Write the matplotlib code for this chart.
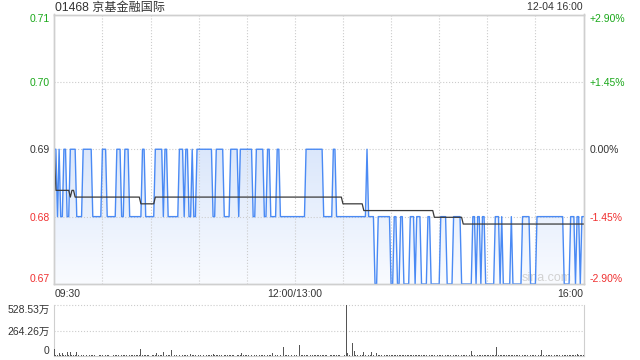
import numpy as np
import matplotlib
matplotlib.use('Agg')
import matplotlib.pyplot as plt
from matplotlib.patches import PathPatch
from matplotlib.colors import to_rgb

plt.rcParams['font.family'] = ['Liberation Sans', 'Noto Sans CJK SC', 'DejaVu Sans']

title = '01468 京基金融国际'
stamp = '12-04 16:00'
prev_close = 0.69

# minute price as runs (price, number of minutes), 09:30 .. 16:00 = 331 points
run_prices = [0.69, 0.68, 0.69, 0.68, 0.69, 0.68, 0.69, 0.68, 0.69, 0.68,
              0.69, 0.68, 0.69, 0.68, 0.69, 0.68, 0.69, 0.68, 0.69, 0.68,
              0.69, 0.68, 0.69, 0.68, 0.69, 0.68, 0.69, 0.68, 0.69, 0.68,
              0.69, 0.68, 0.69, 0.68, 0.69, 0.68, 0.69, 0.68, 0.69, 0.68,
              0.69, 0.68, 0.69, 0.68, 0.69, 0.68, 0.69, 0.68,
              0.67, 0.68, 0.67, 0.68, 0.67, 0.68, 0.67, 0.68, 0.67, 0.68,
              0.67, 0.68, 0.67, 0.68, 0.67, 0.68, 0.67, 0.68, 0.67, 0.68,
              0.67, 0.68, 0.67, 0.68, 0.67, 0.68, 0.67, 0.68, 0.67, 0.68,
              0.67, 0.68, 0.67, 0.68, 0.67, 0.68, 0.67, 0.68]
run_lengths = [2, 1, 1, 2, 2, 2, 4, 4, 6, 6,
               3, 6, 3, 2, 3, 8, 2, 6, 5, 1,
               2, 7, 3, 1, 2, 2, 1, 2, 10, 2,
               5, 4, 5, 1, 8, 2, 5, 2, 2, 4,
               2, 16, 11, 6, 2, 19, 1, 4,
               2, 8, 2, 2, 2, 2, 4, 3, 1, 3,
               4, 2, 6, 4, 4, 5, 7, 2, 1, 2,
               1, 2, 6, 3, 1, 1, 5, 1, 6, 5,
               4, 17, 4, 3, 1, 2, 1, 2]

# average price line as runs
avg_prices = [0.69, 0.6839, 0.6829, 0.6839, 0.6829, 0.6819, 0.6829, 0.6819, 0.6809, 0.6799, 0.6789]
avg_lengths = [1, 9, 1, 2, 41, 9, 117, 13, 44, 18, 76]

# volume per minute, in 万
volumes = [
    75, 15, 10, 35, 12, 30, 10, 8, 40, 12, 45, 10, 15, 8, 45, 10, 12, 8, 10, 5, 12, 8, 10, 6, 12, 8, 10, 5, 12, 8, 10, 6, 12,
    8, 10, 5, 12, 6, 10, 8, 12, 30, 8, 10, 6, 12, 5, 10, 8, 12, 6, 10, 8, 12, 75, 10, 8, 12, 6, 10, 5, 12, 8, 10, 30, 8,
    10, 6, 40, 10, 8, 12, 6, 60, 10, 8, 12, 5, 10, 8, 12, 6, 10, 8, 12, 20, 8, 10, 6, 12, 8, 10, 5, 12, 8, 10, 6, 12, 8,
    20, 10, 6, 12, 8, 10, 5, 12, 8, 10, 6, 12, 8, 10, 5, 12, 8, 10, 30, 8, 12, 6, 10, 8, 12, 5, 10, 8, 12, 6, 10, 8, 12,
    10, 8, 12, 6, 30, 10, 8, 12, 5, 10, 8, 95, 12, 6, 10, 8, 12, 5, 10, 8, 12, 115, 10, 8, 12, 6, 10, 5, 12, 8, 10, 6, 12,
    8, 10, 6, 12, 8, 10, 5, 12, 8, 10, 6, 12, 8, 10, 5, 12, 8, 528.53, 30, 15, 40, 130, 50, 15, 10, 12, 8, 15, 40, 10, 12, 8, 15,
    40, 10, 12, 30, 8, 15, 10, 12, 8, 10, 6, 12, 8, 15, 10, 8, 12, 6, 10, 8, 12, 10, 15, 8, 10, 6, 12, 8, 10, 12, 8, 10, 6,
    10, 12, 8, 15, 10, 6, 12, 268, 10, 8, 12, 6, 10, 8, 15, 10, 12, 8, 10, 6, 12, 8, 10, 15, 8, 12, 6, 10, 12, 55, 10, 8, 12,
    10, 8, 12, 6, 10, 15, 8, 12, 10, 6, 12, 8, 90, 10, 12, 8, 15, 10, 6, 12, 8, 10, 12, 6, 10, 8, 15, 12, 8, 10, 6, 12, 8,
    10, 12, 8, 15, 10, 6, 12, 65, 10, 8, 12, 6, 10, 8, 15, 10, 12, 8, 10, 6, 12, 8, 10, 15, 8, 12, 6, 10, 12, 20, 10, 8, 12,
    15,
]

price_ticks = [0.67, 0.68, 0.69, 0.70, 0.71]
price_labels = ['0.67', '0.68', '0.69', '0.70', '0.71']
pct_labels = ['-2.90%', '-1.45%', '0.00%', '+1.45%', '+2.90%']
time_ticks = [0, 150, 330]
time_labels = ['09:30', '12:00/13:00', '16:00']
vol_ticks = [0, 264.26, 528.53]
vol_labels = ['0', '264.26万', '528.53万']

prices = np.repeat(run_prices, run_lengths)
avg = np.repeat(avg_prices, avg_lengths)
minutes = np.arange(len(prices))

UP, DOWN, FLAT = '#1aa81a', '#f03030', '#333333'
GRID = '#cccccc'
FS = 7.5


def tone(v):
    if v > prev_close + 1e-9:
        return UP
    if v < prev_close - 1e-9:
        return DOWN
    return FLAT


fig = plt.figure(figsize=(6.4, 3.6), dpi=100)
ax = fig.add_axes([54.3 / 640, 1 - 284 / 360, 529.2 / 640, 269.5 / 360])
axv = fig.add_axes([54.3 / 640, 1 - 356 / 360, 529.2 / 640, 51 / 360])

# gradient fill under the price line
poly = ax.fill_between(minutes, prices, 0.67, facecolor='none', edgecolor='none')
clip = PathPatch(poly.get_paths()[0], transform=ax.transData, facecolor='none', edgecolor='none')
ax.add_patch(clip)
top_c, bot_c = np.array(to_rgb('#dbe7fb')), np.array(to_rgb('#f9fbff'))
grad = np.linspace(0, 1, 256)[:, None, None] * (bot_c - top_c) + top_c
im = ax.imshow(grad, extent=[0, 330, 0.67, 0.69], aspect='auto', origin='upper',
               interpolation='bilinear', zorder=1)
im.set_clip_path(clip)

for m in range(30, 330, 30):
    ax.axvline(m, color=GRID, ls=':', lw=0.8, zorder=2)
for p in price_ticks[1:-1]:
    ax.axhline(p, color=GRID, ls=':', lw=0.8, zorder=2)

# watermark, bottom right of the price panel
ax.text(0.93, 0.022, 'sina.com', transform=ax.transAxes, color='#d2d2d2', fontsize=9,
        ha='center', va='center', zorder=1.5)

ax.plot(minutes, prices, color='#4a8af4', lw=1.0, zorder=3)
ax.plot(minutes, avg, color='#3a3a3a', lw=0.9, zorder=4)

ax.set_xlim(0, 330)
ax.set_ylim(0.67, 0.71)
ax.set_xticks(time_ticks)
ax.set_xticklabels(time_labels)
ax.set_yticks(price_ticks)
ax.set_yticklabels(price_labels)
ax.tick_params(length=0, labelsize=FS, pad=3.5, colors=FLAT)
xl = ax.get_xticklabels()
xl[0].set_ha('left')
xl[-1].set_ha('right')
for lab, v in zip(ax.get_yticklabels(), price_ticks):
    lab.set_color(tone(v))
ax.get_yticklabels()[0].set_va('bottom')
ax.get_yticklabels()[-1].set_va('top')

ax2 = ax.twinx()
ax2.set_ylim(0.67, 0.71)
ax2.set_yticks(price_ticks)
ax2.set_yticklabels(pct_labels)
ax2.tick_params(length=0, labelsize=FS, pad=4.5)
for lab, v in zip(ax2.get_yticklabels(), price_ticks):
    lab.set_color(tone(v))
ax2.get_yticklabels()[0].set_va('bottom')
ax2.get_yticklabels()[-1].set_va('top')

for a in (ax, ax2):
    for s in a.spines.values():
        s.set_color('#cfcfcf')
        s.set_linewidth(1)

# volume panel
axv.bar(np.arange(len(volumes)), volumes, width=0.55, color='#555555', zorder=3)
axv.set_xlim(0, 330)
axv.set_ylim(0, 528.53)
axv.set_xticks([])
axv.set_yticks(vol_ticks)
axv.set_yticklabels(vol_labels)
axv.tick_params(length=0, labelsize=FS, pad=3.5, colors=FLAT)
axv.get_yticklabels()[0].set_va('bottom')
axv.get_yticklabels()[-1].set_va('top')
for v in vol_ticks[1:]:
    axv.axhline(v, color=GRID, ls=':', lw=0.8, zorder=2, clip_on=False)
axv.spines['top'].set_visible(False)
for s in ('left', 'right', 'bottom'):
    axv.spines[s].set_color('#cfcfcf')

fig.text(55 / 640, 1 - 7.5 / 360, title, fontsize=8.7, color=FLAT, va='center', ha='left')
fig.text(583 / 640, 1 - 7.5 / 360, stamp, fontsize=FS, color=FLAT, va='center', ha='right')

fig.savefig('out.png', dpi=100)
